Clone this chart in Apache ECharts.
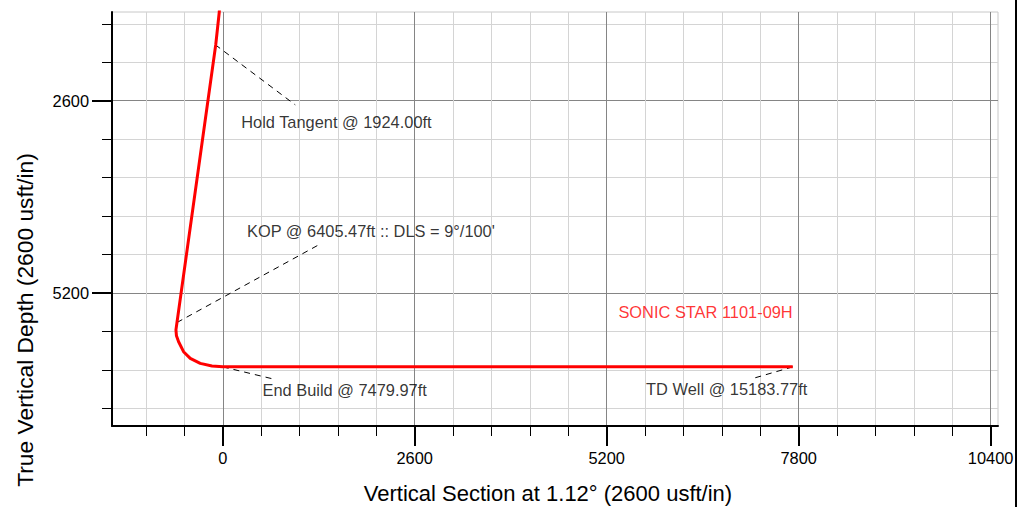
<!DOCTYPE html>
<html>
<head>
<meta charset="utf-8">
<script src="https://cdn.jsdelivr.net/npm/echarts@6/dist/echarts.min.js"></script>
<style>
html,body{margin:0;padding:0;background:#fff;}
#chart{width:1024px;height:507px;}
</style>
</head>
<body>
<div id="chart"></div>
<script>
// ---- data ----
const xMajorTicks = [0, 2600, 5200, 7800, 10400];
const xMinorTicks = [-1040, -520, 520, 1040, 1560, 2080, 3120, 3640, 4160, 4680, 5720, 6240, 6760, 7280, 8320, 8840, 9360, 9880];
const yMajorTicks = [2600, 5200];
const yMinorTicks = [1560, 2080, 3120, 3640, 4160, 4680, 5720, 6240, 6760];

// well path: [vertical section, TVD]
const wellPath = [
  [-43, 1330], [-47, 1400], [-95, 1843], [-620, 5600], [-634, 5700], [-627, 5780],
  [-598, 5860], [-531, 5995], [-440, 6085], [-305, 6153], [-146, 6189],
  [0, 6200], [7720, 6200]
];

// leader lines: [from, to]
const leaderHold = [[-101, 1843], [982, 2656]];
const leaderKop = [[-620, 5600], [1297, 4551]];
const leaderEndBuild = [[0, 6200], [688, 6365]];
const leaderTd = [[7720, 6200], [7210, 6348]];

// annotation anchors (left edge of text)
const annotations = [
  { value: [250, 2885], text: 'Hold Tangent @ 1924.00ft' },
  { value: [328, 4361], text: "KOP @ 6405.47ft :: DLS = 9°/100'" },
  { value: [539, 6514], text: 'End Build @ 7479.97ft' },
  { value: [5734, 6505], text: 'TD Well @ 15183.77ft' }
];
const wellName = { value: [5359, 5454], text: 'SONIC STAR 1101-09H' };

const FONT = "'Liberation Sans', Arial, sans-serif";
const chart = echarts.init(document.getElementById('chart'), null, { renderer: 'svg' });

function leader(data) {
  return {
    type: 'line', xAxisIndex: 0, yAxisIndex: 0, data: data, showSymbol: false, silent: true,
    lineStyle: { color: '#000', width: 1, type: [6, 5] }, z: 3
  };
}
const plain = v => String(v);

const option = {
  animation: false,
  grid: { left: 112, top: 12, right: 26, bottom: 81, show: true, borderColor: '#c8c8c8', borderWidth: 1, backgroundColor: 'transparent' },
  xAxis: [
    {
      type: 'value', min: -1500, max: 10500, position: 'bottom',
      axisLine: { show: true, onZero: false, lineStyle: { color: '#000', width: 2 } },
      axisTick: { show: true, customValues: xMinorTicks, length: 10, lineStyle: { color: '#000', width: 1 } },
      axisLabel: { show: false },
      splitLine: { show: true, lineStyle: { color: '#d4d4d4', width: 1 } }
    },
    {
      type: 'value', min: -1500, max: 10500, position: 'bottom',
      axisLine: { show: false, onZero: false },
      axisTick: { show: true, customValues: xMajorTicks, length: 20, lineStyle: { color: '#000', width: 2 } },
      axisLabel: { show: true, customValues: xMajorTicks, formatter: plain, margin: 24, color: '#000', fontSize: 16.4, fontFamily: FONT },
      splitLine: { show: true, lineStyle: { color: '#858585', width: 1 } }
    }
  ],
  yAxis: [
    {
      type: 'value', min: 1400, max: 7000, inverse: true, position: 'left',
      axisLine: { show: true, onZero: false, lineStyle: { color: '#000', width: 2 } },
      axisTick: { show: true, customValues: yMinorTicks, length: 10, lineStyle: { color: '#000', width: 1 } },
      axisLabel: { show: false },
      splitLine: { show: true, lineStyle: { color: '#d4d4d4', width: 1 } }
    },
    {
      type: 'value', min: 1400, max: 7000, inverse: true, position: 'left',
      axisLine: { show: false, onZero: false },
      axisTick: { show: true, customValues: yMajorTicks, length: 20, lineStyle: { color: '#000', width: 2 } },
      axisLabel: { show: true, customValues: yMajorTicks, formatter: plain, margin: 23, color: '#000', fontSize: 16.4, fontFamily: FONT },
      splitLine: { show: true, lineStyle: { color: '#858585', width: 1 } }
    }
  ],
  series: [
    leader(leaderHold), leader(leaderKop), leader(leaderEndBuild), leader(leaderTd),
    {
      type: 'line', name: 'SONIC STAR 1101-09H', xAxisIndex: 0, yAxisIndex: 0, data: wellPath,
      showSymbol: false, lineStyle: { color: '#ff0000', width: 3, join: 'round' }, z: 4, clip: true
    },
    {
      type: 'scatter', xAxisIndex: 0, yAxisIndex: 0, symbolSize: 0, silent: true, z: 5,
      data: annotations.map(a => ({ value: a.value, name: a.text })),
      label: { show: true, position: 'right', distance: 0, formatter: p => p.name, color: '#000', fontSize: 16.4, fontFamily: FONT }
    },
    {
      type: 'scatter', xAxisIndex: 0, yAxisIndex: 0, symbolSize: 0, silent: true, z: 5,
      data: [{ value: wellName.value, name: wellName.text }],
      label: { show: true, position: 'right', distance: 0, formatter: p => p.name, color: '#ff0000', fontSize: 16.4, fontFamily: FONT }
    }
  ],
  graphic: [
    { type: 'text', x: 548, y: 493, style: { text: 'Vertical Section at 1.12° (2600 usft/in)', fill: '#000', font: '22px ' + FONT, align: 'center', verticalAlign: 'middle' } },
    { type: 'text', x: 25, y: 320, rotation: Math.PI / 2, style: { text: 'True Vertical Depth (2600 usft/in)', fill: '#000', font: '22.8px ' + FONT, align: 'center', verticalAlign: 'middle' } },
    { type: 'line', shape: { x1: 1016, y1: 0, x2: 1016, y2: 507 }, style: { stroke: '#000', lineWidth: 2 } }
  ]
};
chart.setOption(option);
</script>
</body>
</html>
